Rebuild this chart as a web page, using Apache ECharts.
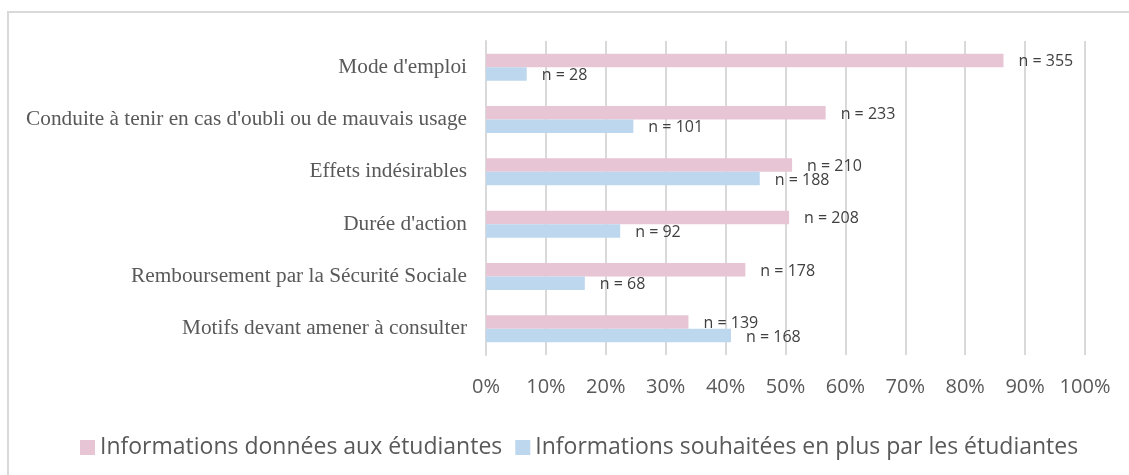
<!DOCTYPE html>
<html>
<head>
<meta charset="utf-8">
<script src="https://cdn.jsdelivr.net/npm/echarts@6/dist/echarts.min.js"></script>
<style>html,body{margin:0;padding:0;background:#fff;}#c{width:1129px;height:475px;}</style>
</head>
<body>
<div id="c"></div>
<script>
var categories = ["Mode d'emploi", "Conduite à tenir en cas d'oubli ou de mauvais usage", "Effets indésirables", "Durée d'action", "Remboursement par la Sécurité Sociale", "Motifs devant amener à consulter"];
var seriesNames = ["Informations données aux étudiantes", "Informations souhaitées en plus par les étudiantes"];
var donneesPct = [86.4, 56.7, 51.1, 50.6, 43.3, 33.8];
var souhaiteesPct = [6.8, 24.6, 45.7, 22.4, 16.5, 40.9];
var donneesN = [355, 233, 210, 208, 178, 139];
var souhaiteesN = [28, 101, 188, 92, 68, 168];
var xTicks = [0, 10, 20, 30, 40, 50, 60, 70, 80, 90, 100];

var chart = echarts.init(document.getElementById('c'));
function mkLabel(nArr) {
  return {
    show: true, position: 'right', distance: 15, offset: [0, 1.5],
    fontFamily: 'Open Sans', fontSize: 16, color: '#404040',
    formatter: function (p) { return 'n = ' + nArr[p.dataIndex]; }
  };
}
chart.setOption({
  animation: false,
  graphic: [{
    type: 'rect', shape: { x: 8, y: 12, width: 1140, height: 480 },
    style: { fill: 'none', stroke: '#D9D9D9', lineWidth: 2 }, silent: true
  }],
  grid: { left: 486, right: 44, top: 41, bottom: 120 },
  legend: {
    left: 75, top: 431, itemWidth: 15, itemHeight: 15, itemGap: 13,
    icon: 'rect',
    textStyle: { fontFamily: 'Open Sans', fontSize: 23, color: '#595959' },
    data: seriesNames
  },
  xAxis: {
    type: 'value', min: xTicks[0], max: xTicks[xTicks.length - 1], interval: 10,
    axisLine: { show: false }, axisTick: { show: false },
    splitLine: { show: true, lineStyle: { color: '#D9D9D9', width: 2 } },
    axisLabel: { margin: 22, fontFamily: 'Open Sans', fontSize: 20, color: '#595959', formatter: '{value}%' }
  },
  yAxis: {
    type: 'category', data: categories, inverse: true,
    axisLine: { show: true, lineStyle: { color: '#D9D9D9', width: 2 } },
    axisTick: { show: false },
    axisLabel: { margin: 19, fontFamily: 'Liberation Serif', fontSize: 21.3, color: '#595959' }
  },
  series: [
    { name: seriesNames[0], type: 'bar', data: donneesPct, barWidth: 13.5, barGap: '0%',
      itemStyle: { color: '#E8C5D5' }, label: mkLabel(donneesN) },
    { name: seriesNames[1], type: 'bar', data: souhaiteesPct, barWidth: 13.5, barGap: '0%',
      itemStyle: { color: '#BDD7EE' }, label: mkLabel(souhaiteesN) }
  ]
});
</script>
</body>
</html>
